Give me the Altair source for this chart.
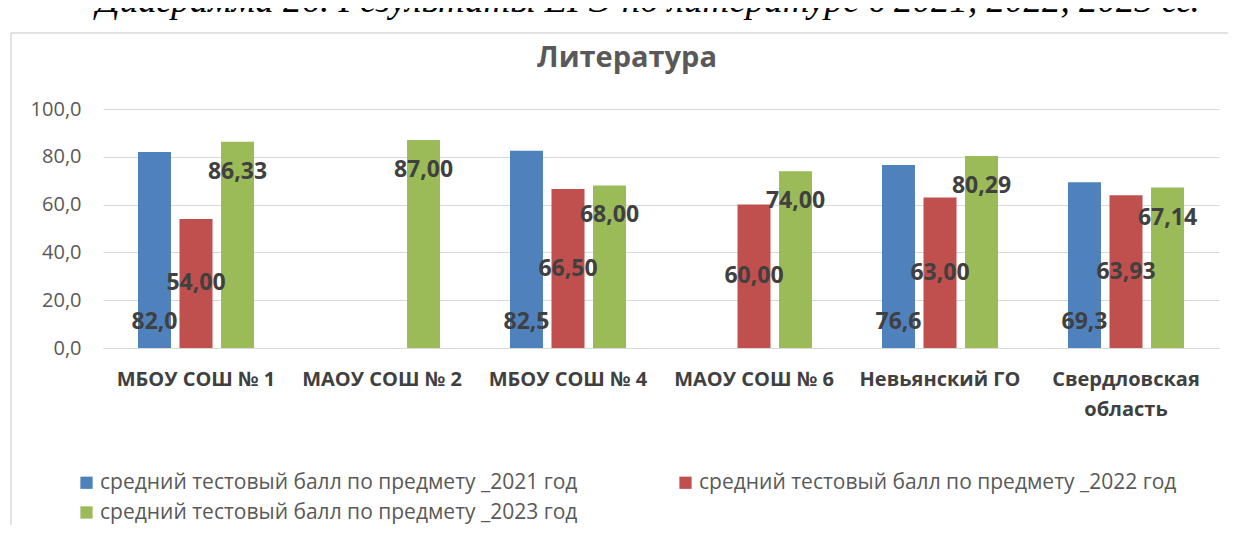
import altair as alt
import pandas as pd

categories = ["МБОУ СОШ № 1", "МАОУ СОШ № 2", "МБОУ СОШ № 4", "МАОУ СОШ № 6", "Невьянский ГО", "Свердловская область"]
series = ["средний тестовый балл по предмету _2021 год",
          "средний тестовый балл по предмету _2022 год",
          "средний тестовый  балл по предмету _2023 год"]
colors = ["#4f81bd", "#c0504d", "#9bbb59"]
v2021 = [82.0, None, 82.5, None, 76.6, 69.3]
v2022 = [54.00, None, 66.50, 60.00, 63.00, 63.93]
v2023 = [86.33, 87.00, 68.00, 74.00, 80.29, 67.14]
decimals = [1, 2, 2]
title = "Литература"
caption = "Диаграмма 26. Результаты ЕГЭ по литературе в 2021, 2022, 2023 гг."

rows = []
for s, vals, d in zip(series, [v2021, v2022, v2023], decimals):
    for c, v in zip(categories, vals):
        if v is None:
            continue
        rows.append({"cat": c, "series": s, "value": v,
                     "label": f"{v:.{d}f}".replace(".", ",")})
df = pd.DataFrame(rows)

# legend fills column-wise, so order the colour domain to give 2021 | 2022 on row one
legend_order = [series[0], series[2], series[1]]
legend_colors = [colors[0], colors[2], colors[1]]

FONT = "Open Sans"
x_enc = alt.X("cat:N", sort=categories, title=None,
              scale=alt.Scale(paddingInner=0.376, paddingOuter=0.188),
              axis=alt.Axis(labelAngle=0, labelFont=FONT, labelFontSize=20, labelFontWeight="bold",
                            labelColor="#404040", ticks=False, domain=True, domainColor="#d9d9d9",
                            grid=False, labelPadding=21, labelLineHeight=30,
                            labelExpr="datum.label == 'Свердловская область' ? ['Свердловская', 'область'] : datum.label"))
xo_enc = alt.XOffset("series:N", sort=series,
                     scale=alt.Scale(paddingInner=0.205, paddingOuter=0))
y_enc = alt.Y("value:Q", title=None,
              scale=alt.Scale(domain=[0, 100]),
              axis=alt.Axis(values=[0, 20, 40, 60, 80, 100], labelFont=FONT, labelFontSize=20,
                            labelColor="#595959", ticks=False, domain=False, grid=True,
                            gridColor="#d9d9d9", labelPadding=22,
                            labelExpr="replace(format(datum.value, '.1f'), '.', ',')"))
color_enc = alt.Color("series:N", sort=legend_order, title=None,
                      scale=alt.Scale(domain=legend_order, range=legend_colors),
                      legend=alt.Legend(orient="none", legendX=-27, legendY=363, columns=2,
                                        columnPadding=92, rowPadding=8, symbolType="square",
                                        symbolSize=150, symbolStrokeWidth=0, labelFont=FONT,
                                        labelFontSize=21, labelColor="#595959", labelOffset=3,
                                        labelLimit=0, padding=0))

base = alt.Chart(df)
bars = base.mark_bar().encode(x=x_enc, xOffset=xo_enc, y=y_enc, color=color_enc)

txt_kw = dict(font=FONT, fontSize=23, fontWeight="bold", color="#404040", baseline="middle")
lab1 = base.transform_filter(alt.datum.series == series[0]).mark_text(**txt_kw).encode(
    x=alt.X("cat:N", sort=categories), xOffset=alt.XOffset("series:N", sort=series),
    y=alt.value(213), text="label:N")
lab2 = base.transform_filter(alt.datum.series == series[1]).transform_calculate(
    mid="datum.value / 2").mark_text(**txt_kw).encode(
    x=alt.X("cat:N", sort=categories), xOffset=alt.XOffset("series:N", sort=series),
    y=alt.Y("mid:Q"), text="label:N")
lab3 = base.transform_filter(alt.datum.series == series[2]).mark_text(dy=30, **txt_kw).encode(
    x=alt.X("cat:N", sort=categories), xOffset=alt.XOffset("series:N", sort=series),
    y=alt.Y("value:Q"), text="label:N")

cap = alt.Chart(pd.DataFrame({"t": [caption]})).mark_text(
    font="Liberation Serif", fontStyle="italic", fontSize=37, color="#000000",
    baseline="alphabetic", align="center").encode(
    text="t:N", x=alt.value(545), y=alt.value(-97))

ttl = alt.Chart(pd.DataFrame({"t": [title]})).mark_text(
    font=FONT, fontSize=29, fontWeight="bold", color="#595959",
    baseline="middle", align="center").encode(
    text="t:N", x=alt.value(524), y=alt.value(-51))

frame_df = pd.DataFrame({"t": [0]})
frame_left = alt.Chart(frame_df).mark_rule(stroke="#d9d9d9", strokeWidth=1.5).encode(
    x=alt.value(-92), y=alt.value(-76), y2=alt.value(700))
frame_top = alt.Chart(frame_df).mark_rule(stroke="#d9d9d9", strokeWidth=1.5).encode(
    x=alt.value(-92), x2=alt.value(1400), y=alt.value(-76))

chart = alt.layer(frame_left, frame_top, cap, ttl, bars, lab1, lab2, lab3).properties(
    width=1116, height=239,
    autosize="none",
    padding={"left": 95, "top": 101, "right": 9, "bottom": 177},
).configure_view(stroke=None)

chart.save("out.html", embed_options={"renderer": "svg", "actions": False})
